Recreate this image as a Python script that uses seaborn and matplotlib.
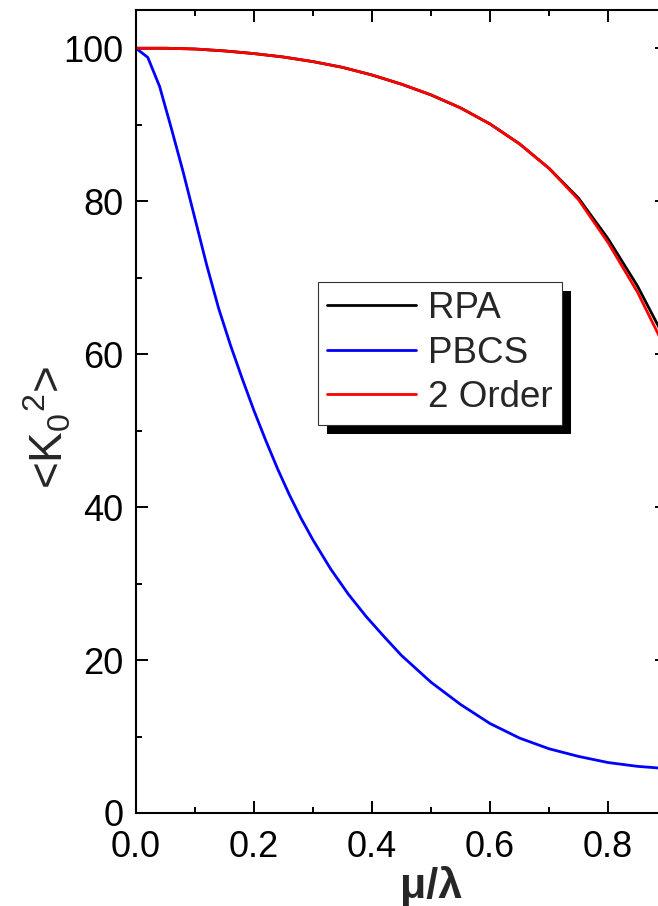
import matplotlib
matplotlib.use("Agg")
import matplotlib.pyplot as plt
from matplotlib.patches import Rectangle
from matplotlib.ticker import MultipleLocator
import seaborn as sns
import pandas as pd

# ---- data ----
x_rpa = [0.00, 0.05, 0.10, 0.15, 0.20, 0.25, 0.30, 0.35, 0.40, 0.45,
         0.50, 0.55, 0.60, 0.65, 0.70, 0.75, 0.80, 0.85, 0.90]
y_rpa = [100.0, 100.0, 99.9, 99.65, 99.3, 98.85, 98.25, 97.5, 96.5, 95.3,
         93.9, 92.2, 90.1, 87.5, 84.3, 80.4, 75.1, 68.9, 61.5]
y_2nd = [100.0, 100.0, 99.9, 99.65, 99.3, 98.85, 98.25, 97.5, 96.5, 95.3,
         93.9, 92.2, 90.1, 87.5, 84.3, 80.2, 74.6, 68.1, 60.3]
x_pbcs = [0.00, 0.02, 0.04, 0.06, 0.08, 0.10, 0.12, 0.14, 0.16, 0.18,
          0.20, 0.22, 0.24, 0.26, 0.28, 0.30, 0.33, 0.36, 0.39, 0.42,
          0.45, 0.50, 0.55, 0.60, 0.65, 0.70, 0.75, 0.80, 0.85, 0.90]
y_pbcs = [100.0, 98.8, 95.0, 89.5, 83.8, 77.7, 71.6, 66.0, 61.2, 56.8,
          52.6, 48.7, 45.0, 41.6, 38.5, 35.7, 31.9, 28.6, 25.7, 23.1,
          20.6, 17.1, 14.2, 11.7, 9.8, 8.4, 7.4, 6.6, 6.1, 5.8]
series_names = ["RPA", "PBCS", "2 Order"]
series_colors = ["#000000", "#0000FF", "#FF0000"]

df = pd.concat([
    pd.DataFrame({"x": x_rpa, "y": y_rpa, "series": "RPA"}),
    pd.DataFrame({"x": x_pbcs, "y": y_pbcs, "series": "PBCS"}),
    pd.DataFrame({"x": x_rpa, "y": y_2nd, "series": "2 Order"}),
], ignore_index=True)

sns.set_style("ticks")
plt.rcParams["font.family"] = ["Liberation Sans", "DejaVu Sans"]
plt.rcParams["mathtext.fontset"] = "custom"
plt.rcParams["mathtext.rm"] = "Liberation Sans"
plt.rcParams["mathtext.it"] = "Liberation Sans:italic"
plt.rcParams["mathtext.bf"] = "Liberation Sans:bold"

W, H = 658, 906
fig = plt.figure(figsize=(W / 100, H / 100), dpi=100)
L, R, T, B = 136, 667, 10, 813
ax = fig.add_axes([L / W, 1 - B / H, (R - L) / W, (B - T) / H])

sns.lineplot(data=df, x="x", y="y", hue="series", hue_order=series_names,
             palette=dict(zip(series_names, series_colors)),
             estimator=None, sort=False, linewidth=2.0, ax=ax, legend=False)

ax.xaxis.set_major_locator(MultipleLocator(0.2))
ax.xaxis.set_minor_locator(MultipleLocator(0.1))
ax.yaxis.set_major_locator(MultipleLocator(20))
ax.yaxis.set_minor_locator(MultipleLocator(10))
ax.set_xticks([0, 0.2, 0.4, 0.6, 0.8])
ax.set_xticklabels(["0.0", "0.2", "0.4", "0.6", "0.8"])
ax.set_xlim(0, 0.9)
ax.set_ylim(0, 105)

for s in ax.spines.values():
    s.set_linewidth(1.5)
    s.set_color("black")
ax.tick_params(which="both", direction="in", top=True, right=True,
               width=1.4, colors="black", labelsize=26)
ax.tick_params(which="major", length=8.6)
ax.tick_params(which="minor", length=4.3)
ax.tick_params(axis="x", pad=12)
ax.tick_params(axis="y", pad=9)

ax.set_xlabel("μ/λ", fontsize=31, fontweight="bold")
ax.xaxis.set_label_coords(0.555, -0.066)
ax.set_ylabel(r"<K$_0$$^2$>", fontsize=33)
ax.yaxis.set_label_coords(-0.117, 0.48)

handles = [plt.Line2D([], [], color=c, lw=2.0) for c in series_colors]
leg = ax.legend(handles, series_names, loc="upper left",
                bbox_to_anchor=((318 - L) / (R - L), (B - 282) / (B - T)),
                borderaxespad=0, fontsize=26.5, frameon=True, fancybox=False,
                framealpha=1, edgecolor="#333333", handlelength=2.4,
                handletextpad=0.35, labelspacing=0.26, borderpad=0.25)
leg.get_frame().set_linewidth(0.8)
leg.set_zorder(6)

fig.canvas.draw()
bb = leg.get_frame().get_window_extent(fig.canvas.get_renderer())
shadow = Rectangle((bb.x0 + 9, bb.y0 - 9), bb.width, bb.height,
                   transform=None, facecolor="black", edgecolor="none",
                   zorder=5.5, clip_on=False)
ax.add_artist(shadow)

fig.savefig("out.png", dpi=100)
